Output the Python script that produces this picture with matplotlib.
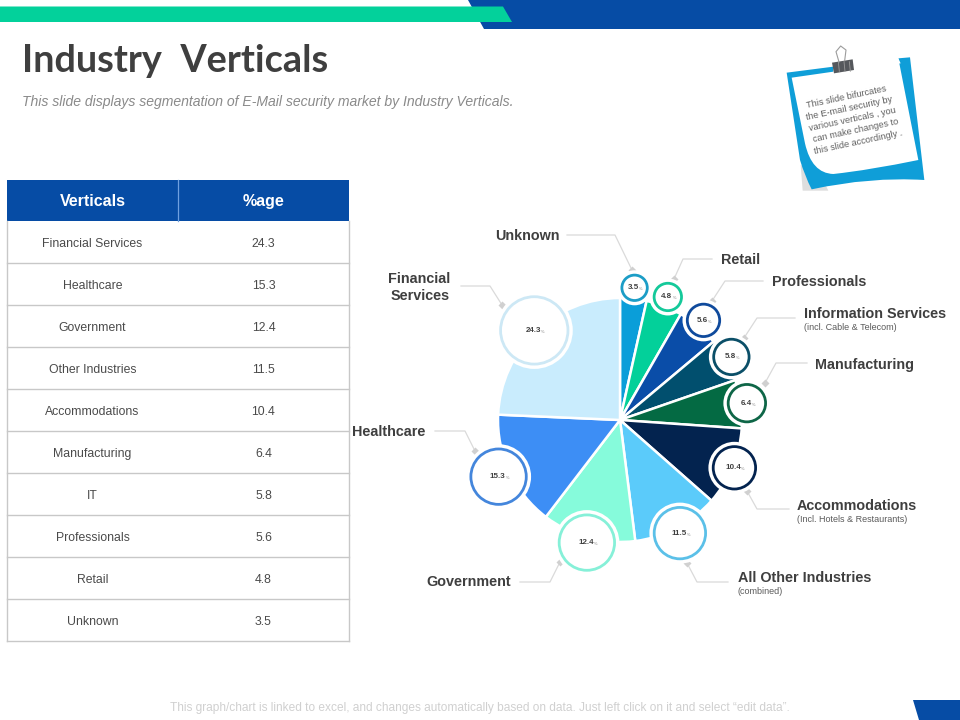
import numpy as np
import matplotlib
matplotlib.use("Agg")
import matplotlib.pyplot as plt
from matplotlib.patches import Polygon, Circle, Rectangle, PathPatch
from matplotlib.path import Path

plt.rcParams['font.family'] = ['Liberation Sans', 'DejaVu Sans']

# table rows, same order as the slide
verticals = ["Financial Services", "Healthcare", "Government", "Other Industries", "Accommodations",
             "Manufacturing", "IT", "Professionals", "Retail", "Unknown"]
shares = [24.3, 15.3, 12.4, 11.5, 10.4, 6.4, 5.8, 5.6, 4.8, 3.5]

# pie runs clockwise from 12 o'clock, starting at the last table row
pie_values = shares[::-1]
pie_colors = ["#0A9ED9", "#03D09A", "#0A4DA8", "#014F6E", "#046A43",
              "#03234F", "#5BCBFA", "#86FBDB", "#3D8EF5", "#C9ECFD"]
ring_colors = ["#1C9DC6", "#14C99A", "#0F4A9C", "#0B4F68", "#0E6647",
               "#03234F", "#5BC0E8", "#86F0D8", "#4486DC", "#CDE8F5"]

BLUE = "#064CA5"
GREEN = "#03D19B"
DARK = "#3F3F3F"
LEADER = "#DADADA"

# layout of the bubbles, in slide pixels
bubble_radius = [14, 15, 17.5, 19, 20, 22.5, 27, 29, 29, 35]
bubble_dist = [133, 132, 130, 128, 128, 124, 128, 127, 134, 124]
PIE_X, PIE_Y, PIE_R = 620, 420, 122

# name, sub name, x, y, alignment, leader line points
callouts = [
    ("Unknown", None, 560, 235, "right", [(567, 235), (615, 235), (632, 270)]),
    ("Retail", None, 721, 260, "left", [(712, 259), (683, 259), (674, 279)]),
    ("Professionals", None, 772, 282, "left", [(763, 281), (725, 281), (712, 301)]),
    ("Information Services", "(incl. Cable & Telecom)", 804, 313, "left", [(795, 318), (757, 318), (744, 338)]),
    ("Manufacturing", None, 815, 364, "left", [(807, 363), (776, 363), (765, 383)]),
    ("Accommodations", "(Incl. Hotels & Restaurants)", 797, 505, "left", [(789, 509), (757, 509), (747, 491)]),
    ("All Other Industries", "(combined)", 738, 577, "left", [(728, 582), (697, 582), (687, 563)]),
    ("Government", None, 511, 582, "right", [(520, 582), (550, 582), (560, 562)]),
    ("Healthcare", None, 425, 432, "right", [(435, 431), (465, 431), (475, 451)]),
    ("Financial\nServices", None, 450, 287, "right", [(461, 286), (490, 286), (502, 305)]),
]

note_lines = ["This slide bifurcates", "the E-mail security by", "various verticals , you",
              "can make changes to", "this slide accordingly ."]

fig = plt.figure(figsize=(9.6, 7.2), dpi=100)
ax = fig.add_axes([0, 0, 1, 1])

# pie first, ax.pie resets the limits
ax.pie(pie_values, colors=pie_colors, center=(PIE_X, PIE_Y), radius=PIE_R, startangle=-90, counterclock=True,
       normalize=True, wedgeprops={"edgecolor": "white", "linewidth": 1.8, "zorder": 2})
ax.set_xlim(0, 960)
ax.set_ylim(720, 0)
ax.set_aspect("auto")
ax.axis("off")

# header strips
ax.add_patch(Polygon([(468, 0), (960, 0), (960, 29), (484, 29)], color=BLUE, lw=0))
ax.add_patch(Polygon([(0, 6.5), (503, 6.5), (512, 22), (0, 22)], color=GREEN, lw=0))
ax.add_patch(Polygon([(913, 700), (960, 700), (960, 720), (919, 720)], color=BLUE, lw=0))

ax.text(22, 61, "Industry  Verticals", fontsize=27.3, fontweight="bold", color=DARK, family="Lato",
        ha="left", va="center")
ax.text(22, 102, "This slide displays segmentation of E-Mail security market by Industry Verticals.",
        fontsize=10.12, style="italic", color="#8A8A8A", ha="left", va="center")
ax.text(480, 708, "This graph/chart is linked to excel, and changes automatically based on data. "
        "Just left click on it and select \u201cedit data\u201d.",
        fontsize=8.55, color="#D0D0D0", ha="center", va="center")

# table
TX0, TX1, TX2 = 7, 178, 349
HEAD_TOP, ROW_TOP, ROW_H = 180, 221, 42
ax.add_patch(Rectangle((TX0, HEAD_TOP), TX2 - TX0, ROW_TOP - HEAD_TOP, color=BLUE, lw=0))
ax.plot([TX1, TX1], [HEAD_TOP, ROW_TOP], color="#6FA0E0", lw=0.9)
ax.text((TX0 + TX1) / 2, 201.5, "Verticals", fontsize=11.5, fontweight="bold", color="white", ha="center", va="center")
ax.text((TX1 + TX2) / 2, 201.5, "%age", fontsize=11.5, fontweight="bold", color="white", ha="center", va="center")
for i, (name, share) in enumerate(zip(verticals, shares)):
    y = ROW_TOP + ROW_H * i
    ax.plot([TX0, TX2], [y + ROW_H, y + ROW_H], color="#C8C8C8", lw=1)
    ax.text((TX0 + TX1) / 2, y + ROW_H / 2 + 2, name, fontsize=8.85, color="#4A4A4A", ha="center", va="center")
    ax.text((TX1 + TX2) / 2, y + ROW_H / 2 + 2, f"{share}", fontsize=8.85, color="#4A4A4A", ha="center", va="center")
ax.plot([TX0, TX0], [ROW_TOP, ROW_TOP + ROW_H * 10], color="#C8C8C8", lw=1)
ax.plot([TX2, TX2], [ROW_TOP, ROW_TOP + ROW_H * 10], color="#C8C8C8", lw=1)

# bubbles sit on the middle of each slice
cum = np.cumsum(pie_values)
mids = (cum - np.array(pie_values) / 2) / cum[-1] * 2 * np.pi
for val, mid, r, d, col in zip(pie_values, mids, bubble_radius, bubble_dist, ring_colors):
    cx = PIE_X + d * np.sin(mid)
    cy = PIE_Y - d * np.cos(mid)
    ax.add_patch(Circle((cx, cy), r + 3.5, facecolor="white", edgecolor="none", zorder=3))
    ax.add_patch(Circle((cx, cy), r - 1.3, facecolor="white", edgecolor=col, lw=2.0, zorder=4))
    t = ax.text(cx - 1, cy, f"{val}", fontsize=5.8, fontweight="bold", color="#404040", ha="center", va="center", zorder=5)
    ax.annotate("%", xy=(1, 0), xycoords=t, fontsize=2.8, color="#808080", ha="left", va="bottom", zorder=5)

# callouts
for name, sub, x, y, align, pts in callouts:
    xs, ys = zip(*pts)
    ax.plot(xs, ys, color=LEADER, lw=0.9, zorder=1)
    ax.plot(xs[-1], ys[-1], marker="D", ms=4.2, color="#D0D0D0", mec="none", zorder=1)
    ax.text(x, y + 0.5, name, fontsize=10.4, fontweight="bold", color=DARK, ha=align, va="center", linespacing=1.2)
    if sub:
        ax.text(x, y + 14, sub, fontsize=6.5, color="#5A5A5A", ha=align, va="center")


def note_pt(zx, zy):
    # note shape was measured on a crop of the top right corner
    return (770 + zx / 3, 30 + zy / 3)


# sticky note
shadow = [note_pt(*p) for p in [(92, 405), (98, 482), (175, 482), (150, 430)]]
ax.add_patch(Polygon(shadow, color="#DEDEDE", lw=0))

blue_verts = [note_pt(*p) for p in [(50, 128), (190, 110), (190, 132), (392, 100), (385, 85), (420, 82), (463, 450),
                                    (300, 440), (125, 478), (105, 440), (90, 390), (50, 128)]]
blue_codes = [Path.MOVETO, Path.LINETO, Path.LINETO, Path.LINETO, Path.LINETO, Path.LINETO, Path.LINETO,
              Path.CURVE3, Path.CURVE3, Path.CURVE3, Path.CURVE3, Path.LINETO]
ax.add_patch(PathPatch(Path(blue_verts, blue_codes), facecolor="#0F9ED8", edgecolor="none"))

paper_verts = [note_pt(*p) for p in [(65, 143), (190, 125), (385, 85), (445, 390),
                                     (300, 420), (190, 432), (125, 430), (105, 340), (65, 143)]]
paper_codes = [Path.MOVETO, Path.LINETO, Path.LINETO, Path.LINETO,
               Path.CURVE3, Path.CURVE3, Path.CURVE3, Path.CURVE3, Path.LINETO]
ax.add_patch(PathPatch(Path(paper_verts, paper_codes), facecolor="white", edgecolor="none"))

for i, line in enumerate(note_lines):
    x, y = note_pt(229 + 9 * i, 200 + 34 * i)
    ax.text(x, y, line, fontsize=6.6, color="#606060", rotation=12, rotation_mode="anchor", ha="center", va="center")

# binder clip
clip = [note_pt(*p) for p in [(186, 98), (248, 88), (252, 120), (192, 130)]]
ax.add_patch(Polygon(clip, color="#55585C", lw=0))
for zx in (205, 222, 238):
    ax.plot(*zip(note_pt(zx, 95), note_pt(zx + 3, 124)), color="#9A9A9A", lw=0.6)
wire = [note_pt(*p) for p in [(207, 96), (198, 65), (212, 48), (228, 60), (224, 92)]]
ax.plot(*zip(*wire), color="#9C9C9C", lw=0.8)

fig.savefig("out.png", dpi=100)
